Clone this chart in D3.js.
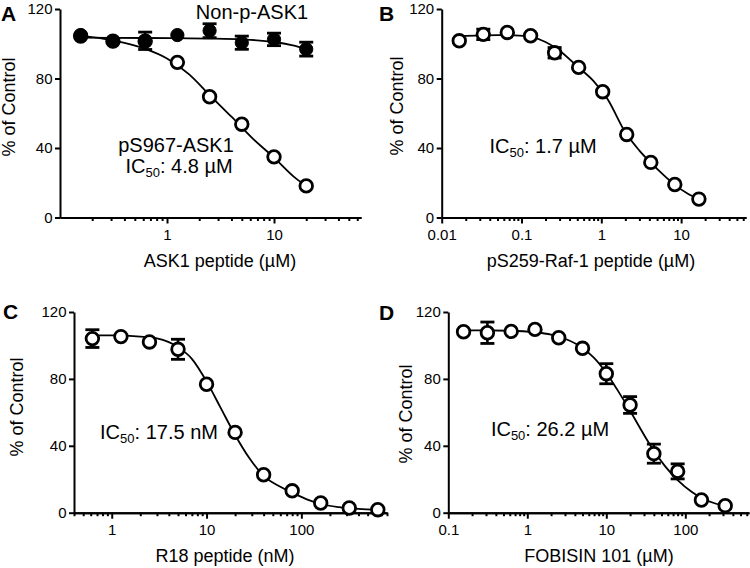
<!DOCTYPE html>
<html>
<head>
<meta charset="utf-8">
<script src="https://cdn.jsdelivr.net/npm/d3@7"></script>
<style>
  html, body { margin: 0; padding: 0; background: #fff; }
  svg { display: block; }
</style>
</head>
<body>
<svg id="chart" width="750" height="568"></svg>
<script>
// ---------------- DATA ----------------
const yTicks = [0, 40, 80, 120];

// Panel A: ASK1 peptide (µM)
const concA = [0.156, 0.3125, 0.625, 1.25, 2.5, 5, 10, 20];
const nonPASK1 = [105, 101.5, 101.7, 105, 107.5, 100.6, 102.5, 96.9];
const nonPASK1Err = [0, 0, 5, 0, 4, 3.8, 3.6, 4];
const pS967ASK1 = [104.5, 101.5, 101.5, 89.3, 69.5, 53.7, 34.9, 18.2];
const fitNonPX = [0.156, 0.3125, 0.625, 1.25, 2.5, 5, 10, 15, 20];
const fitNonPY = [103.5, 103.4, 103.3, 103.2, 103, 102.5, 101, 99, 97];
const fitPS967X = [0.156, 0.25, 0.4, 0.625, 1, 1.6, 2.5, 4, 6.3, 10, 16, 20];
const fitPS967Y = [104.5, 103, 100.5, 97, 91.5, 82.5, 70.5, 58, 45.5, 34.5, 22.5, 18.3];
const ticksA = [1, 10];
const tickLabelsA = ["1", "10"];

// Panel B: pS259-Raf-1 peptide (µM)
const concB = [0.0166, 0.0332, 0.0664, 0.13, 0.26, 0.52, 1.04, 2.08, 4.17, 8.33, 16.7];
const raf1 = [101.7, 105.4, 106.5, 104.6, 94.8, 86.4, 72.4, 47.8, 31.7, 19, 10.6];
const raf1Err = [0, 3, 0, 0, 3, 0, 0, 0, 0, 0, 0];
const fitBX = [0.0166, 0.03, 0.05, 0.08, 0.13, 0.2, 0.3, 0.5, 0.8, 1.2, 2, 3, 5, 8, 12, 16.7];
const fitBY = [104.3, 104.8, 105, 104.8, 104, 101, 96, 87, 78.5, 68, 49, 38.5, 28, 19.5, 13.8, 10.5];
const ticksB = [0.01, 0.1, 1, 10];
const tickLabelsB = ["0.01", "0.1", "1", "10"];

// Panel C: R18 peptide (nM)
const concC = [0.625, 1.25, 2.5, 5, 10, 20, 40, 80, 160, 320, 640];
const r18 = [104.1, 105.3, 102.1, 97.7, 76.8, 48, 22.7, 13.1, 5.8, 2.8, 1.8];
const r18Err = [5.3, 0, 0, 6, 0, 0, 0, 0, 0, 0, 0];
const fitCX = [0.625, 1, 2, 3, 5, 7, 10, 14, 20, 28, 40, 60, 80, 120, 160, 250, 400, 640];
const fitCY = [106, 106, 105.3, 104.2, 99, 92, 78.5, 63, 46.5, 33, 22, 15.5, 12, 7.5, 5.2, 3.3, 2.3, 1.8];
const ticksC = [1, 10, 100];
const tickLabelsC = ["1", "10", "100"];

// Panel D: FOBISIN 101 (µM)
const concD = [0.156, 0.3125, 0.625, 1.25, 2.5, 5, 10, 20, 40, 80, 160, 320];
const fobisin = [108.2, 107.6, 108.4, 109.6, 104.6, 98.3, 83.1, 64.4, 35.3, 24.7, 7.6, 4.2];
const fobisinErr = [0, 6.4, 0, 0, 0, 0, 6, 5, 5.7, 4.5, 0, 0];
const fitDX = [0.156, 0.3, 0.6, 1.2, 2, 3, 5, 7, 10, 14, 20, 28, 40, 55, 80, 120, 160, 240, 320];
const fitDY = [109, 109, 108.8, 108, 106.5, 104, 98.5, 92.5, 83.5, 73, 61, 49, 37, 28, 19.5, 12.5, 8.8, 5.5, 4];
const ticksD = [0.1, 1, 10, 100];
const tickLabelsD = ["0.1", "1", "10", "100"];

// ---------------- DRAW ----------------
const FONT = "'Liberation Sans', Arial, Helvetica, sans-serif";
const svg = d3.select("#chart");

function zip(a, b) { return a.map((v, i) => [v, b[i]]); }

function panel(cfg) {
  const g = svg.append("g");
  const x = d3.scaleLog().domain(cfg.xDomain).range(cfg.xRange);
  const y = d3.scaleLinear().domain([0, 120]).range(cfg.yRange);

  // minor ticks
  const minors = [];
  for (let e = -3; e <= 3; e++) {
    for (let m = 2; m <= 9; m++) {
      const v = m * Math.pow(10, e);
      if (v >= cfg.xDomain[0] * 0.999 && v <= cfg.xDomain[1] * 1.001) minors.push(v);
    }
  }
  const y0 = cfg.yRange[0];

  const minorAxis = g.append("g").attr("transform", `translate(0,${y0})`)
    .call(d3.axisBottom(x).tickValues(minors).tickSize(3.5).tickSizeOuter(0).tickFormat(""));
  const majorAxis = g.append("g").attr("transform", `translate(0,${y0})`)
    .call(d3.axisBottom(x).tickValues(cfg.ticks).tickSize(6).tickSizeOuter(0).tickPadding(5.5)
      .tickFormat((d, i) => cfg.tickLabels[i]));
  const yAxis = g.append("g").attr("transform", `translate(${cfg.xRange[0]},0)`)
    .call(d3.axisLeft(y).tickValues(yTicks).tickSize(5).tickSizeOuter(0).tickPadding(2.5));

  [minorAxis, majorAxis, yAxis].forEach(a => {
    a.select(".domain").attr("stroke", "#000").attr("stroke-width", 2);
    a.selectAll(".tick line").attr("stroke", "#000").attr("stroke-width", 2);
    a.selectAll("text").attr("font-family", FONT).attr("font-size", 15).attr("fill", "#000");
  });

  // axis titles
  g.append("text")
    .attr("x", cfg.xTitlePos[0]).attr("y", cfg.xTitlePos[1])
    .attr("text-anchor", "middle").attr("font-family", FONT).attr("font-size", 18)
    .text(cfg.xTitle);
  g.append("text")
    .attr("transform", `translate(${cfg.yTitlePos[0]},${cfg.yTitlePos[1]}) rotate(-90)`)
    .attr("text-anchor", "middle").attr("font-family", FONT).attr("font-size", 18)
    .text("% of Control");

  // panel letter
  g.append("text")
    .attr("x", cfg.letterPos[0]).attr("y", cfg.letterPos[1])
    .attr("font-family", FONT).attr("font-weight", "bold").attr("font-size", 21)
    .text(cfg.letter);

  const line = d3.line().x(d => x(d[0])).y(d => y(d[1])).curve(d3.curveMonotoneX);

  // fits
  cfg.fits.forEach(f => {
    g.append("path").datum(zip(f[0], f[1]))
      .attr("d", line).attr("fill", "none").attr("stroke", "#000").attr("stroke-width", 1.8);
  });

  // series
  cfg.series.forEach(s => {
    const pts = s.x.map((v, i) => ({ x: v, y: s.y[i], e: s.err ? s.err[i] : 0 }));
    const eb = g.append("g");
    pts.filter(p => p.e > 0).forEach(p => {
      const cx = x(p.x), yt = y(p.y + p.e), yb = y(p.y - p.e);
      eb.append("line").attr("x1", cx).attr("x2", cx).attr("y1", yt).attr("y2", yb)
        .attr("stroke", "#000").attr("stroke-width", 2.6);
      [yt, yb].forEach(yy => eb.append("line").attr("x1", cx - 7).attr("x2", cx + 7)
        .attr("y1", yy).attr("y2", yy).attr("stroke", "#000").attr("stroke-width", 2.8));
    });
    g.append("g").selectAll("circle").data(pts).join("circle")
      .attr("cx", d => x(d.x)).attr("cy", d => y(d.y))
      .attr("r", s.filled ? 6.6 : 6.3)
      .attr("fill", s.filled ? "#000" : "#fff")
      .attr("stroke", "#000").attr("stroke-width", s.filled ? 1 : 2.8);
  });

  // annotations
  cfg.notes.forEach(n => {
    const t = g.append("text").attr("x", n.pos[0]).attr("y", n.pos[1])
      .attr("text-anchor", "middle").attr("font-family", FONT).attr("font-size", 20);
    if (n.ic) {
      t.append("tspan").text("IC");
      t.append("tspan").attr("font-size", 13).attr("dy", 4).text("50");
      t.append("tspan").attr("dy", -4).text(": " + n.text);
    } else {
      t.text(n.text);
    }
  });
}

panel({
  letter: "A", letterPos: [1, 21],
  xDomain: [0.1, 65], xRange: [60, 361], yRange: [217.5, 9],
  ticks: ticksA, tickLabels: tickLabelsA,
  xTitle: "ASK1 peptide (µM)", xTitlePos: [220, 267], yTitlePos: [15, 107],
  fits: [[fitPS967X, fitPS967Y], [fitNonPX, fitNonPY]],
  series: [
    { x: concA, y: pS967ASK1, filled: false },
    { x: concA, y: nonPASK1, err: nonPASK1Err, filled: true }
  ],
  notes: [
    { pos: [252, 18.5], text: "Non-p-ASK1" },
    { pos: [176, 152], text: "pS967-ASK1" },
    { pos: [179, 173], text: "4.8 µM", ic: true }
  ]
});

panel({
  letter: "B", letterPos: [379, 21],
  xDomain: [0.01, 65], xRange: [441.7, 746], yRange: [217.5, 9],
  ticks: ticksB, tickLabels: tickLabelsB,
  xTitle: "pS259-Raf-1 peptide (µM)", xTitlePos: [591, 267], yTitlePos: [403, 106],
  fits: [[fitBX, fitBY]],
  series: [{ x: concB, y: raf1, err: raf1Err, filled: false }],
  notes: [{ pos: [543, 153], text: "1.7 µM", ic: true }]
});

panel({
  letter: "C", letterPos: [3, 319],
  xDomain: [0.4, 800], xRange: [74, 387], yRange: [512.7, 312],
  ticks: ticksC, tickLabels: tickLabelsC,
  xTitle: "R18 peptide (nM)", xTitlePos: [225, 562], yTitlePos: [23.3, 407],
  fits: [[fitCX, fitCY]],
  series: [{ x: concC, y: r18, err: r18Err, filled: false }],
  notes: [{ pos: [159, 439], text: "17.5 nM", ic: true }]
});

panel({
  letter: "D", letterPos: [379, 320],
  xDomain: [0.1, 640], xRange: [448.3, 749], yRange: [512.7, 312],
  ticks: ticksD, tickLabels: tickLabelsD,
  xTitle: "FOBISIN 101 (µM)", xTitlePos: [599, 562], yTitlePos: [411.7, 414],
  fits: [[fitDX, fitDY]],
  series: [{ x: concD, y: fobisin, err: fobisinErr, filled: false }],
  notes: [{ pos: [550, 436], text: "26.2 µM", ic: true }]
});
</script>
</body>
</html>
